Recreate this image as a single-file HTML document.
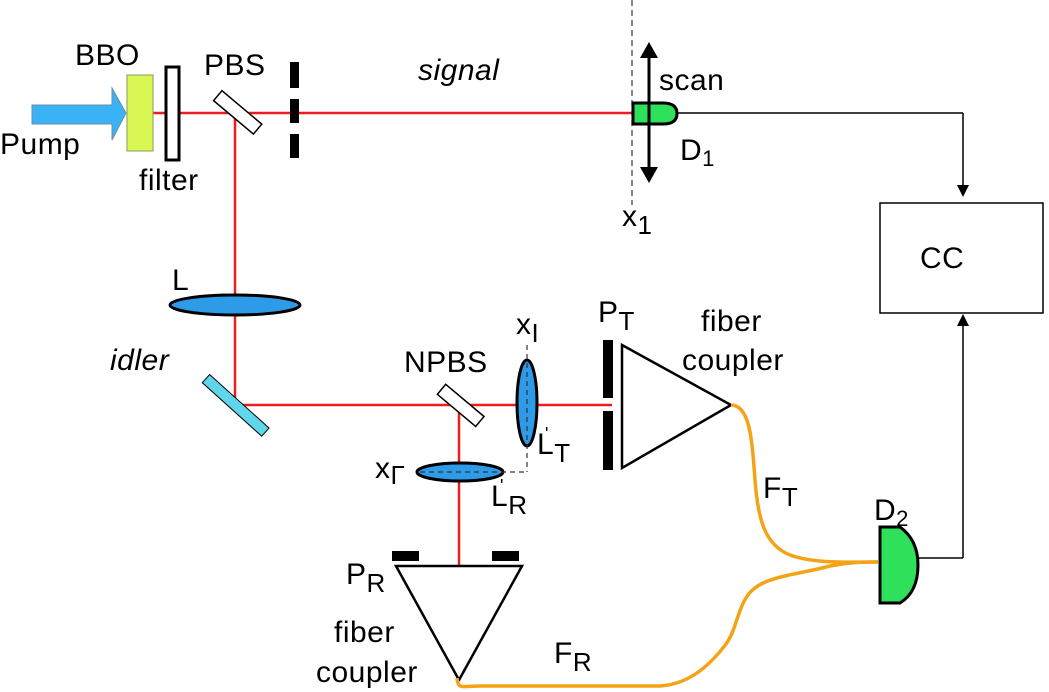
<!DOCTYPE html>
<html><head><meta charset="utf-8"><style>
html,body{margin:0;padding:0;background:#fff;}
svg{display:block;font-family:"Liberation Sans",sans-serif;}
</style></head><body>
<svg width="1049" height="692" viewBox="0 0 1049 692" xmlns="http://www.w3.org/2000/svg">
<g stroke="#ee1c1c" stroke-width="2.5" fill="none">
<line x1="153" y1="113" x2="632" y2="113"/>
<line x1="235" y1="113" x2="235" y2="405"/>
<line x1="235" y1="405" x2="612" y2="405"/>
<line x1="459" y1="405" x2="459" y2="566"/>
</g>
<polygon points="32,105 112,105 112,88 126,113 112,140 112,124 32,124" fill="#3bb2f5" stroke="#6a8fa8" stroke-width="1"/>
<rect x="127" y="75" width="26" height="76" fill="#d9f752" stroke="#8a9a60" stroke-width="1"/>
<rect x="166" y="67" width="13" height="93" fill="#fff" stroke="#000" stroke-width="3"/>
<rect x="212" y="106" width="52" height="13" fill="#fff" stroke="#000" stroke-width="1.5" transform="rotate(40 238 112)"/>
<g fill="#000"><rect x="290" y="62" width="9" height="26"/><rect x="290" y="99" width="9" height="24"/><rect x="290" y="134" width="9" height="24"/></g>
<line x1="632" y1="0" x2="632" y2="205" stroke="#444" stroke-width="1.3" stroke-dasharray="6,4"/>
<line x1="677" y1="113" x2="963" y2="113" stroke="#000" stroke-width="1.5"/>
<line x1="963" y1="113" x2="963" y2="186" stroke="#000" stroke-width="1.5"/>
<polygon points="957,185 969,185 963,197" fill="#000"/>
<path d="M633,103 L663,103 Q677,103 677,113.5 Q677,124 663,124 L633,124 Z" fill="#2fe05a" stroke="#000" stroke-width="3"/>
<line x1="649" y1="52" x2="649" y2="173" stroke="#000" stroke-width="3"/>
<polygon points="640,58 649,42 658,58" fill="#000"/>
<polygon points="640,167 649,183 658,167" fill="#000"/>
<rect x="880" y="203" width="163" height="110" fill="#fff" stroke="#000" stroke-width="1.5"/>
<line x1="963" y1="558" x2="963" y2="324" stroke="#000" stroke-width="1.5"/>
<polygon points="957,326 969,326 963,314" fill="#000"/>
<line x1="918" y1="558" x2="963" y2="558" stroke="#000" stroke-width="1.5"/>
<ellipse cx="235" cy="305" rx="65" ry="10" fill="#2e9be8" stroke="#000" stroke-width="3"/>
<rect x="196" y="400" width="80" height="11" fill="#5fd6ea" stroke="#000" stroke-width="1" transform="rotate(42 236 405)"/>
<rect x="436" y="399" width="50" height="13" fill="#fff" stroke="#000" stroke-width="1.5" transform="rotate(40 461 405)"/>
<ellipse cx="527" cy="403" rx="10" ry="43" fill="#2e9be8" stroke="#000" stroke-width="3"/>
<line x1="527" y1="345" x2="527" y2="472" stroke="#333" stroke-width="1.2" stroke-dasharray="5,4"/>
<ellipse cx="460" cy="472" rx="43" ry="9" fill="#2e9be8" stroke="#000" stroke-width="3"/>
<line x1="420" y1="472" x2="527" y2="472" stroke="#333" stroke-width="1.2" stroke-dasharray="5,4"/>
<rect x="603" y="340" width="10" height="58" fill="#000"/>
<rect x="603" y="411" width="10" height="59" fill="#000"/>
<polygon points="622,345 622,468 731,405" fill="#fff" stroke="#000" stroke-width="2.5"/>
<rect x="392" y="551" width="27" height="10" fill="#000"/>
<rect x="492" y="551" width="27" height="10" fill="#000"/>
<polygon points="396,566 522,566 459,680" fill="#fff" stroke="#000" stroke-width="2.5"/>
<g stroke="#f5a316" stroke-width="3.5" fill="none">
<path d="M731,405 C750,405 752,440 755,480 C758,520 765,545 790,555 C815,564 850,562 878,562"/>
<path d="M457,678 C458,690 462,686 480,686 L660,686 C690,684 710,665 726,644 C738,628 738,600 755,588 C770,576 800,574 830,566 C850,562 865,562 878,562"/>
</g>
<path d="M880,527 L900,527 Q918,540 918,565 Q918,592 900,603 L880,603 Z" fill="#2fe05a" stroke="#000" stroke-width="3"/>
<g font-size="30" fill="#000" letter-spacing="0.5">
<text x="75" y="65">BBO</text>
<text x="0" y="154">Pump</text>
<text x="139" y="190">filter</text>
<text x="204" y="75">PBS</text>
<text x="418" y="80" font-style="italic">signal</text>
<text x="659" y="90">scan</text>
<text x="680" y="160">D<tspan font-size="22" dy="6">1</tspan></text>
<text x="622" y="226">x<tspan font-size="26" dy="8">1</tspan></text>
<text x="920" y="268">CC</text>
<text x="172" y="290">L</text>
<text x="110" y="370" font-style="italic">idler</text>
<text x="404" y="372">NPBS</text>
<text x="516" y="334">x<tspan font-size="26" dy="8">I</tspan></text>
<text x="598" y="322">P<tspan font-size="26" dy="8">T</tspan></text>
<text x="701" y="331">fiber</text>
<text x="682" y="370">coupler</text>
<text x="537" y="454">L<tspan font-size="26" dy="8">T</tspan></text>
<text x="545" y="440" font-size="18">'</text>
<text x="375" y="478">x<tspan font-size="26" dy="6">Γ</tspan></text>
<text x="491" y="506">L<tspan font-size="26" dy="8">R</tspan></text>
<text x="500" y="492" font-size="18">'</text>
<text x="763" y="498">F<tspan font-size="26" dy="8">T</tspan></text>
<text x="874" y="520">D<tspan font-size="22" dy="6">2</tspan></text>
<text x="346" y="584">P<tspan font-size="26" dy="8">R</tspan></text>
<text x="334" y="642">fiber</text>
<text x="316" y="682">coupler</text>
<text x="554" y="663">F<tspan font-size="26" dy="8">R</tspan></text>
</g>
</svg>
</body></html>
